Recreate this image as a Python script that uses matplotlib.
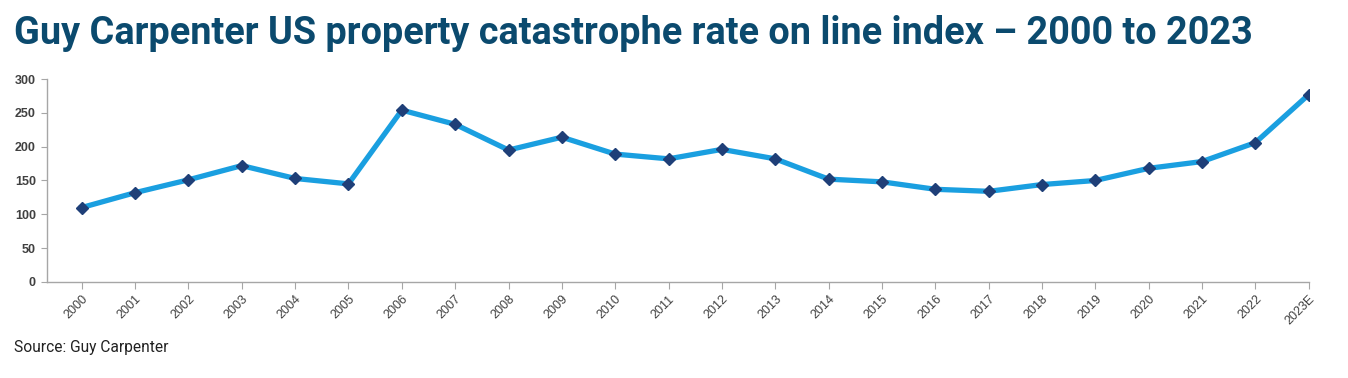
import matplotlib
matplotlib.use('Agg')
import matplotlib.pyplot as plt
import numpy as np

years = ['2000', '2001', '2002', '2003', '2004', '2005', '2006', '2007', '2008',
         '2009', '2010', '2011', '2012', '2013', '2014', '2015', '2016', '2017',
         '2018', '2019', '2020', '2021', '2022', '2023E']
rol_index = [110, 132, 151, 172, 153, 145, 254, 233, 195, 214, 189, 182, 196,
             182, 152, 148, 137, 134, 144, 150, 168, 178, 206, 277]
y_ticks = [0, 50, 100, 150, 200, 250, 300]

title = 'Guy Carpenter US property catastrophe rate on line index \u2013 2000 to 2023'
source = 'Source: Guy Carpenter'

fig = plt.figure(figsize=(13.48, 3.78), dpi=100)
ax = fig.add_axes([0.0349, 0.254, 0.936, 0.537])

x = np.arange(len(years))
ax.plot(x, rol_index, color='#1a9fe0', linewidth=3.8, marker='D', markersize=6.5,
        markerfacecolor='#1f3f78', markeredgecolor='#1f3f78', zorder=3)

ax.set_xlim(-0.65, len(years) - 1)
ax.set_ylim(0, 300)
ax.set_yticks(y_ticks)
ax.set_xticks(x)
ax.set_xticklabels(years, rotation=45, ha='right', rotation_mode='anchor')

for side in ['top', 'right']:
    ax.spines[side].set_visible(False)
for side in ['left', 'bottom']:
    ax.spines[side].set_color('#a6a6a6')
    ax.spines[side].set_linewidth(1.0)

ax.tick_params(axis='x', colors='#a6a6a6', labelcolor='#404040', labelsize=9, length=5, pad=3)
ax.tick_params(axis='y', colors='#a6a6a6', labelcolor='#404040', labelsize=9, length=4, pad=4)
for lab in ax.get_yticklabels():
    lab.set_fontweight('bold')
    lab.set_family('Liberation Sans')
for lab in ax.get_xticklabels():
    lab.set_family('Liberation Sans')

fig.text(0.0104, 0.912, title, fontsize=27.3, fontweight='bold', family='Roboto',
         color='#0b4a6e', va='center', ha='left')
fig.text(0.0104, 0.08, source, fontsize=11.2, family='Roboto', color='#222222',
         va='center', ha='left')

fig.savefig('out.png', dpi=100)
